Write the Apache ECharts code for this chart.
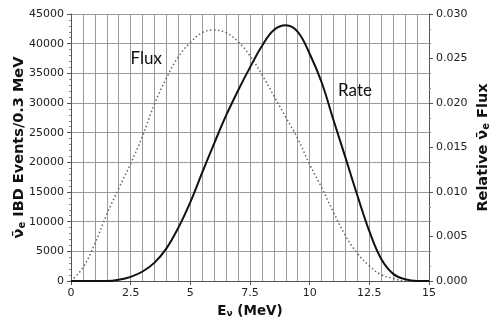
<!DOCTYPE html>
<html>
<head>
<meta charset="utf-8">
<script src="https://cdn.jsdelivr.net/npm/echarts@6/dist/echarts.min.js"></script>
<style>
  html, body { margin: 0; padding: 0; background: #fff; }
  #chart { width: 498px; height: 328px; }
</style>
</head>
<body>
<div id="chart"></div>
<script>
// neutrino energy (MeV)
var energy = [0, 0.5, 1, 1.5, 2, 2.5, 3, 3.5, 4, 4.5, 5, 5.5, 6, 6.5, 7, 7.5,
              8, 8.5, 9, 9.5, 10, 10.5, 11, 11.5, 12, 12.5, 13, 13.5, 14, 14.5, 15];
// IBD events / 0.3 MeV (left axis)
var rate = [0, 0, 0, 0, 200, 700, 1600, 3100, 5500, 9000, 13300, 18300, 23200, 27900, 32100, 36000,
            39600, 42300, 43100, 42000, 38300, 33500, 27100, 20800, 14400, 8400, 3700, 1200, 300, 0, 0];
// relative flux (right axis)
var flux = [0, 0.0015, 0.0042, 0.0075, 0.0104, 0.0132, 0.0163, 0.0199, 0.0228, 0.0252, 0.0268, 0.0279, 0.0282, 0.0279, 0.0269, 0.0253,
            0.0232, 0.0208, 0.0184, 0.0160, 0.0131, 0.0105, 0.0077, 0.0051, 0.0031, 0.0017, 0.0007, 0.0003, 0, 0, 0];

var rateData = energy.map(function (e, i) { return [e, rate[i]]; });
var fluxData = energy.map(function (e, i) { return [e, flux[i]]; });

var font = 'DejaVu Sans';
var gridColor = '#9a9a9a';
var axisColor = '#555';

// bold axis-title styles with a subscript
function titleRich(size) {
    return {
        n: {fontFamily: font, fontWeight: 'bold', fontSize: size, color: '#111'},
        b: {fontFamily: font, fontWeight: 'bold', fontSize: size, color: '#111'},
        s: {fontFamily: font, fontWeight: 'bold', fontSize: Math.round(size * 0.68), color: '#111',
            verticalAlign: 'bottom', padding: [Math.round(size * 0.4), 0, 0, 0]}
    };
}

var chart = echarts.init(document.getElementById('chart'));
chart.setOption({
    animation: false,
    grid: {left: 71, right: 69, top: 14, bottom: 47, containLabel: false, outerBoundsMode: 'none'},
    xAxis: {
        type: 'value',
        min: 0, max: 15, interval: 2.5,
        name: '{b|E}{s|ν}{b| (MeV)}',
        nameLocation: 'middle',
        nameGap: 23,
        nameMoveOverlap: false,
        nameTextStyle: {rich: titleRich(13.5)},
        axisLine: {lineStyle: {color: axisColor, width: 1}},
        axisTick: {length: 4, lineStyle: {color: axisColor}},
        axisLabel: {fontFamily: font, fontSize: 11, color: '#222', margin: 7,
            formatter: function (v) { return String(v); }},
        splitLine: {show: true, lineStyle: {color: gridColor, width: 1}},
        minorTick: {show: false, splitNumber: 5},
        minorSplitLine: {show: true, lineStyle: {color: gridColor, width: 1}}
    },
    yAxis: [
        {
            type: 'value',
            min: 0, max: 45000, interval: 5000,
            name: '{n|ν̄}{s|e}{b| IBD Events/0.3 MeV}',
            nameLocation: 'middle',
            nameRotate: 90,
            nameGap: 44,
            nameMoveOverlap: false,
            nameTextStyle: {rich: titleRich(14.5)},
            axisLine: {show: true, lineStyle: {color: axisColor, width: 1}},
            axisTick: {show: true, length: 4, lineStyle: {color: axisColor}},
            axisLabel: {fontFamily: font, fontSize: 11, color: '#222', margin: 7,
                formatter: function (v) { return String(v); }},
            splitLine: {show: true, lineStyle: {color: gridColor, width: 1}},
            minorTick: {show: true, splitNumber: 5, length: 2, lineStyle: {color: '#888'}}
        },
        {
            type: 'value',
            position: 'right',
            min: 0, max: 0.03, interval: 0.005,
            name: '{b|Relative }{n|ν̄}{s|e}{b| Flux}',
            nameLocation: 'middle',
            nameRotate: 90,
            nameGap: 46,
            nameMoveOverlap: false,
            nameTextStyle: {rich: titleRich(14.5)},
            axisLine: {show: true, lineStyle: {color: axisColor, width: 1}},
            axisTick: {show: true, length: 4, lineStyle: {color: axisColor}},
            axisLabel: {fontFamily: font, fontSize: 11, color: '#222', margin: 7,
                formatter: function (v) { return v.toFixed(3); }},
            splitLine: {show: false},
            minorTick: {show: true, splitNumber: 3, length: 2, lineStyle: {color: '#888'}}
        }
    ],
    series: [
        {
            name: 'Flux',
            type: 'line',
            yAxisIndex: 1,
            data: fluxData,
            smooth: 0.4,
            showSymbol: false,
            lineStyle: {color: '#666', width: 1.5, type: [1.5, 2.5]}
        },
        {
            name: 'Rate',
            type: 'line',
            yAxisIndex: 0,
            data: rateData,
            smooth: 0.4,
            showSymbol: false,
            lineStyle: {color: '#111', width: 2}
        }
    ]
});

// curve labels, anchored at data coordinates
var pFlux = chart.convertToPixel({xAxisIndex: 0, yAxisIndex: 0}, [3.15, 37500]);
var pRate = chart.convertToPixel({xAxisIndex: 0, yAxisIndex: 0}, [11.9, 32100]);
chart.setOption({
    graphic: [
        {type: 'text', x: pFlux[0], y: pFlux[1],
            style: {text: 'Flux', font: '17px Lato', fill: '#111', textAlign: 'center', textVerticalAlign: 'middle'}},
        {type: 'text', x: pRate[0], y: pRate[1],
            style: {text: 'Rate', font: '17px Lato', fill: '#111', textAlign: 'center', textVerticalAlign: 'middle'}}
    ]
});
</script>
</body>
</html>
